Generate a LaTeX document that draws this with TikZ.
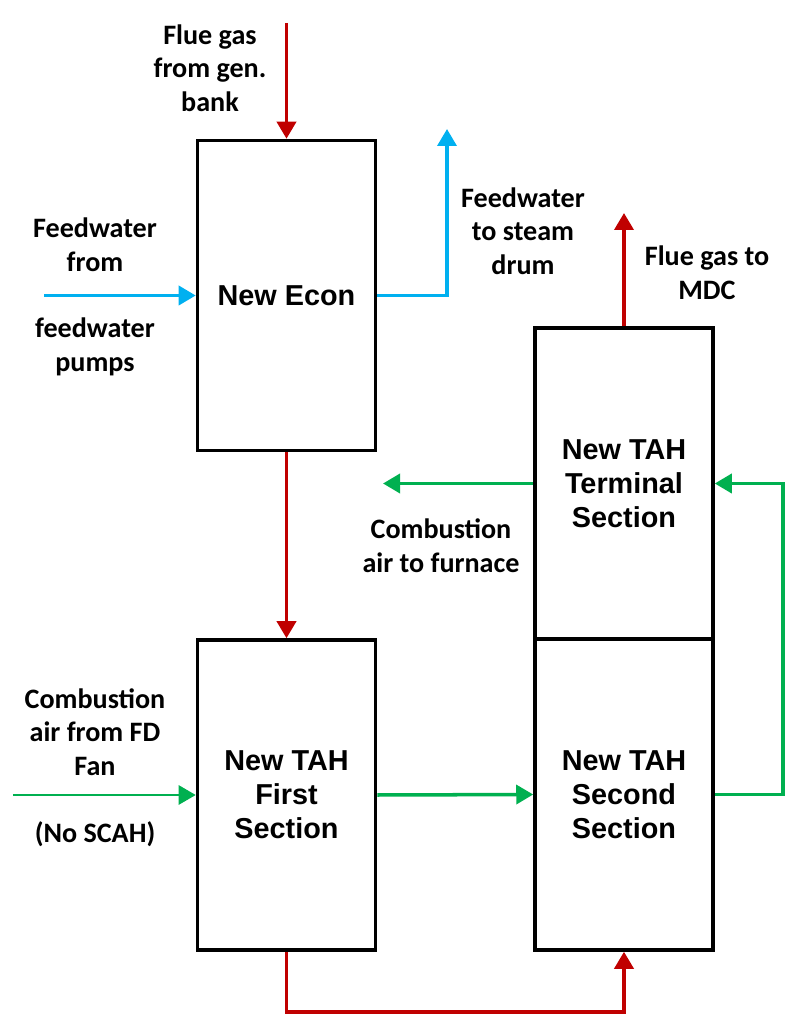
\documentclass[tikz,border=0pt]{standalone}
\usepackage{fontspec}
\newfontfamily\lblfont{Carlito}
\newfontfamily\boxfont{Liberation Sans}
\usetikzlibrary{arrows.meta,positioning,calc}
\definecolor{gasred}{HTML}{C00000}
\definecolor{waterblue}{HTML}{00B0F0}
\definecolor{airgreen}{HTML}{00B050}
\begin{document}
\begin{tikzpicture}[
  >={Triangle[length=3.4mm,width=3.8mm]},
  unit/.style={draw,line width=2pt,minimum width=3.56cm,minimum height=6.2cm,align=center,font=\boxfont\bfseries\fontsize{16.4}{19.4}\selectfont},
  lbl/.style={align=center,font=\lblfont\bfseries\fontsize{16}{19.2}\selectfont},
  gas/.style={->,gasred,line width=2.1pt},
  water/.style={->,waterblue,line width=2pt},
  air/.style={->,airgreen,line width=2pt}
]
\useasboundingbox (0,0) rectangle (16.02,20.48);
\node[unit] (econ) at (5.73,14.57) {New Econ};
\node[unit,minimum height=6.22cm] (term) at (12.48,10.81) {New TAH\\Terminal\\Section};
\node[unit] (first) at (5.73,4.58) {New TAH\\First\\Section};
\node[unit,minimum height=6.22cm] (second) at (12.48,4.59) {New TAH\\Second\\Section};

\coordinate (gasin) at (5.73,20.02);
\coordinate (fwin) at (0.88,14.57);
\coordinate (fwout) at (8.94,17.90);
\coordinate (mdc) at (12.48,16.22);
\coordinate (furnace) at (7.66,10.81);
\coordinate (loop) at (15.66,10.81);
\coordinate (fdfan) at (0.26,4.58);
\coordinate (duct) at (9.0,0.24);

\draw[gas] (gasin) -- (econ.north);
\draw[water] (fwin) -- (econ.west);
\draw[water] (econ.east) -| (fwout);
\draw[gas] (econ.south) -- (first.north);
\draw[gas] (term.north) -- (mdc);
\draw[air] (term.west) -- (furnace);
\draw[air,line width=1.5pt] (fdfan) -- (first.west);
\draw[air] (first.east) -- (second.west);
\draw[air] (second.east) -| (loop) -- (term.east);
\draw[gas] (first.south) |- (duct) -| (second.south);

\node[lbl] (lgasin) at (4.2,19.12) {Flue gas\\from gen.\\bank};
\node[lbl] (lfwin) at (1.9,15.58) {Feedwater\\from};
\node[lbl] (lpumps) at (1.9,13.54) {feedwater\\pumps};
\node[lbl] (lfwout) at (10.46,15.86) {Feedwater\\to steam\\drum};
\node[lbl] (lmdc) at (14.14,15.02) {Flue gas to\\MDC};
\node[lbl] (lfurnace) at (8.82,9.56) {Combustion\\air to furnace};
\node[lbl] (lfdfan) at (1.9,5.84) {Combustion\\air from FD\\Fan};
\node[lbl] (lscah) at (1.9,3.80) {(No SCAH)};
\end{tikzpicture}
\end{document}
